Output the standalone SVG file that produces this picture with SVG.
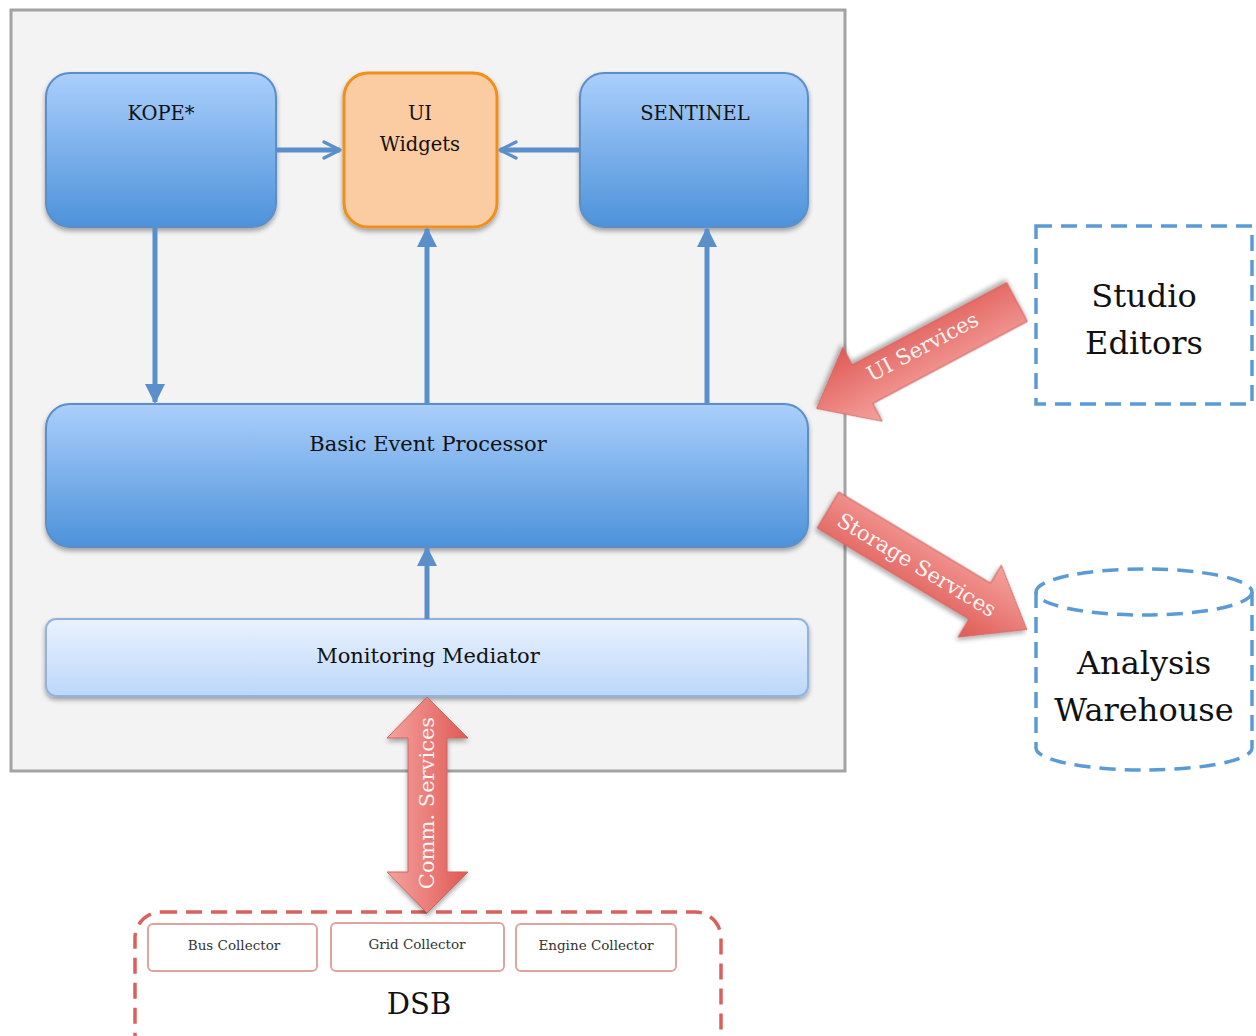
<svg xmlns="http://www.w3.org/2000/svg" width="1256" height="1036" viewBox="0 0 1256 1036">
  <defs>
    <linearGradient id="blueFill" x1="0" y1="0" x2="0" y2="1">
      <stop offset="0" stop-color="#abcffc"/>
      <stop offset="1" stop-color="#4d92da"/>
    </linearGradient>
    <linearGradient id="paleFill" x1="0" y1="0" x2="0" y2="1">
      <stop offset="0" stop-color="#eaf2fe"/>
      <stop offset="1" stop-color="#bcd7f9"/>
    </linearGradient>
    <linearGradient id="redFill" x1="0" y1="0" x2="0" y2="1">
      <stop offset="0" stop-color="#f5a29e"/>
      <stop offset="1" stop-color="#df5a55"/>
    </linearGradient>
    <linearGradient id="redFillH" x1="0" y1="0" x2="1" y2="0">
      <stop offset="0" stop-color="#f5a29e"/>
      <stop offset="1" stop-color="#df5a55"/>
    </linearGradient>
    <filter id="shadow" x="-10%" y="-10%" width="130%" height="140%">
      <feGaussianBlur in="SourceAlpha" stdDeviation="2.5"/>
      <feOffset dx="0" dy="3" result="b"/>
      <feComponentTransfer><feFuncA type="linear" slope="0.35"/></feComponentTransfer>
      <feMerge><feMergeNode/><feMergeNode in="SourceGraphic"/></feMerge>
    </filter>
    <marker id="tri" viewBox="0 0 10 10" refX="9" refY="5" markerWidth="4" markerHeight="4" orient="auto" markerUnits="strokeWidth">
      <path d="M0,0 L10,5 L0,10 z" fill="#5b8fc9"/>
    </marker>
    <marker id="vee" viewBox="0 0 10 10" refX="9" refY="5" markerWidth="4" markerHeight="4" orient="auto" markerUnits="strokeWidth">
      <path d="M1,1 L9,5 L1,9" fill="none" stroke="#5b8fc9" stroke-width="1.6" stroke-linecap="round" stroke-linejoin="round"/>
    </marker>
  </defs>
  <style>
    text { font-family: "DejaVu Serif", "Liberation Serif", serif; fill: #111; text-anchor: middle; }
    .node { fill: url(#blueFill); stroke: #5b8fc9; stroke-width: 2; filter: url(#shadow); }
    .lbl { font-size: 19.5px; }
    .wide { font-size: 21px; }
    .big { font-size: 32px; }
    .wlbl { font-size: 21px; fill: #fff5f4; }
    .small { font-size: 13.5px; fill: #333; }
    .link { stroke: #5b8fc9; stroke-width: 5; fill: none; }
    .dashBlue { fill: none; stroke: #5b9bd5; stroke-width: 3.5; stroke-dasharray: 16 9; }
    .dashRed { fill: none; stroke: #d9605b; stroke-width: 3.5; stroke-dasharray: 16 9; }
    .collector { fill: #fff; stroke: #e0a3a0; stroke-width: 2; }
    .block { stroke: #d0655f; stroke-width: 1; filter: url(#shadow); }
  </style>

  <!-- container -->
  <rect x="11" y="10" width="834" height="761" fill="#f3f3f3" stroke="#a3a3a3" stroke-width="3"/>

  <g id="kope">
    <rect class="node" x="46" y="73" width="230" height="154" rx="24"/>
    <text class="lbl" x="161" y="120">KOPE*</text>
  </g>
  <g id="ui-widgets">
    <rect x="344" y="73" width="153" height="154" rx="24" fill="#fbcba1" stroke="#f0901e" stroke-width="3" filter="url(#shadow)"/>
    <text class="lbl" x="420" y="120">UI</text>
    <text class="lbl" x="420" y="151" font-size="20.5">Widgets</text>
  </g>
  <g id="sentinel">
    <rect class="node" x="580" y="73" width="228" height="154" rx="24"/>
    <text class="lbl" x="695" y="120">SENTINEL</text>
  </g>
  <g id="basic-event-processor">
    <rect class="node" x="46" y="404" width="762" height="143" rx="24"/>
    <text class="wide" x="428" y="451">Basic Event Processor</text>
  </g>
  <g id="monitoring-mediator">
    <rect x="46" y="619" width="762" height="77" rx="10" fill="url(#paleFill)" stroke="#90b4e2" stroke-width="2" filter="url(#shadow)"/>
    <text class="wide" x="428" y="663">Monitoring Mediator</text>
  </g>

  <g id="studio-editors">
    <rect class="dashBlue" x="1036" y="226" width="216" height="178"/>
    <text class="big" x="1144" y="307">Studio</text>
    <text class="big" x="1144" y="354">Editors</text>
  </g>
  <g id="analysis-warehouse">
    <path class="dashBlue" d="M1036,592 L1036,748 A108,22 0 0 0 1252,748 L1252,592"/>
    <ellipse class="dashBlue" cx="1144" cy="592" rx="108" ry="23"/>
    <text class="big" x="1144" y="674">Analysis</text>
    <text class="big" x="1144" y="721">Warehouse</text>
  </g>

  <g id="dsb">
    <rect class="dashRed" x="135" y="912" width="586" height="150" rx="26"/>
    <rect class="collector" x="148" y="924" width="169" height="47" rx="5"/>
    <text class="small" x="234" y="950">Bus Collector</text>
    <rect class="collector" x="331" y="923" width="173" height="48" rx="5"/>
    <text class="small" x="417" y="949">Grid Collector</text>
    <rect class="collector" x="516" y="924" width="160" height="47" rx="5"/>
    <text class="small" x="596" y="950">Engine Collector</text>
    <text x="419" y="1014" font-size="29">DSB</text>
  </g>

  <g id="connectors">
    <line class="link" x1="277" y1="150" x2="340" y2="150" marker-end="url(#vee)"/>
    <line class="link" x1="579" y1="150" x2="500" y2="150" marker-end="url(#vee)"/>
    <line class="link" x1="155" y1="227" x2="155" y2="402" marker-end="url(#tri)"/>
    <line class="link" x1="427" y1="404" x2="427" y2="229" marker-end="url(#tri)"/>
    <line class="link" x1="707" y1="404" x2="707" y2="229" marker-end="url(#tri)"/>
    <line class="link" x1="427" y1="619" x2="427" y2="548" marker-end="url(#tri)"/>

    <!-- UI Services block arrow -->
    <g transform="translate(1017,302) rotate(152)">
      <polygon class="block" fill="url(#redFill)" points="0,-22 175,-22 175,-42 227,0 175,42 175,22 0,22"/>
    </g>
    <text class="wlbl" transform="translate(926,353) rotate(-28)">UI Services</text>

    <!-- Storage Services block arrow -->
    <g transform="translate(828,510) rotate(31)">
      <polygon class="block" fill="url(#redFill)" points="0,-21 177,-21 177,-42 232,0 177,42 177,21 0,21"/>
    </g>
    <text class="wlbl" transform="translate(913,571) rotate(31)">Storage Services</text>

    <!-- Comm. Services double block arrow -->
    <polygon class="block" fill="url(#redFillH)" points="427,697 468,738 447,738 447,872 468,872 427,913 387,872 408,872 408,738 387,738"/>
    <text class="wlbl" transform="translate(434,803) rotate(-90)">Comm. Services</text>
  </g>
</svg>
